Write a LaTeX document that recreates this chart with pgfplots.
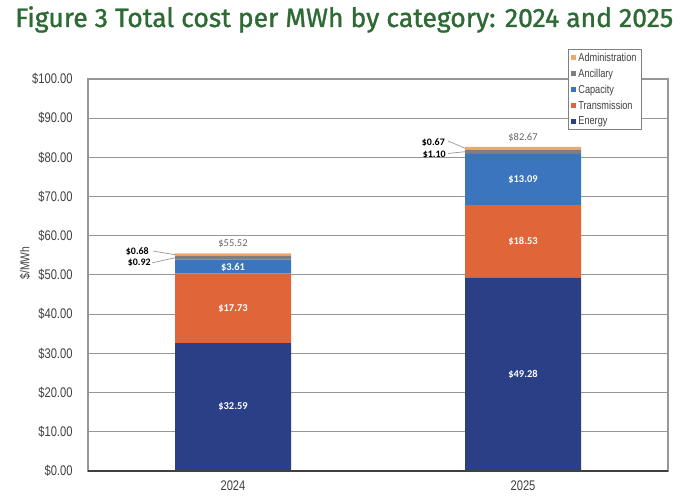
\documentclass[border=0pt]{standalone}
\usepackage{fontspec}
\usepackage{pgfplots}
\pgfplotsset{compat=1.18}
\setmainfont{Liberation Sans}
\newfontfamily\narrowfont[FakeStretch=0.8]{Liberation Sans}
\newfontfamily\calfont{Carlito}
\newfontfamily\titlefont[FakeBold=1.2]{Fira Sans}
\definecolor{titlegreen}{RGB}{46,106,52}
\definecolor{energyc}{RGB}{43,63,135}
\definecolor{transc}{RGB}{224,102,58}
\definecolor{capc}{RGB}{59,117,190}
\definecolor{ancc}{RGB}{127,127,127}
\definecolor{adminc}{RGB}{242,166,104}
\definecolor{tickgray}{RGB}{64,64,64}
\definecolor{gridgray}{RGB}{150,150,150}
\definecolor{totgray}{RGB}{100,100,100}
\tikzset{inl/.style={text=white, font=\calfont\bfseries\fontsize{10.5}{10.5}\selectfont},
  tot/.style={text=totgray, font=\calfont\fontsize{10.5}{10.5}\selectfont},
  sml/.style={text=black, anchor=east, inner sep=0pt, font=\calfont\bfseries\fontsize{10}{10}\selectfont}}
\begin{document}
\begin{tikzpicture}
\useasboundingbox (0bp,0bp) rectangle (680bp,501bp);
\node[anchor=base west, inner sep=0pt, text=titlegreen] at (15bp,474bp)
  {\resizebox{658bp}{!}{\titlefont Figure 3 Total cost per MWh by category: 2024 and 2025}};
\node[rotate=90, text=tickgray, font=\narrowfont\fontsize{13}{13}\selectfont] at (25bp,238bp) {\$/MWh};
\begin{axis}[
  at={(88bp,30bp)}, anchor=south west,
  scale only axis, width=580bp, height=392bp,
  ybar stacked, bar width=0.4,
  xmin=-0.5, xmax=1.5, ymin=0, ymax=100,
  xtick={0,1}, xticklabels={2024,2025},
  ytick={0,10,...,100},
  /pgf/number format/assume math mode=true,
  yticklabel={\$\pgfmathprintnumber[fixed,fixed zerofill,precision=2]{\tick}},
  tick style={draw=none},
  ticklabel style={text=tickgray, font=\narrowfont\fontsize{14}{14}\selectfont},
  yticklabel style={xshift=-12bp},
  xticklabel style={yshift=-6bp},
  ymajorgrids, major grid style={draw=gridgray, line width=1bp},
  axis line style={draw=gridgray, line width=1.2bp},
  clip=false,
  reverse legend,
  legend style={at={(rel axis cs:0.8276,1.0765)}, anchor=north west, fill=white,
    draw=gray, line width=0.8bp, font=\narrowfont\fontsize{11.5}{11.5}\selectfont,
    text=tickgray, inner xsep=3bp, inner ysep=1.5bp, row sep=2.2bp, cells={anchor=west},
    /tikz/every even column/.append style={column sep=1bp}},
  legend image code/.code={\fill[#1] (0bp,-2.5bp) rectangle (5bp,2.5bp);},
]
\addplot[fill=energyc, draw=none] coordinates {(0,32.59) (1,49.28)};
\addplot[fill=transc, draw=none] coordinates {(0,17.73) (1,18.53)};
\addplot[fill=capc, draw=none] coordinates {(0,3.61) (1,13.09)};
\addplot[fill=ancc, draw=none] coordinates {(0,0.92) (1,1.10)};
\addplot[fill=adminc, draw=none] coordinates {(0,0.68) (1,0.67)};
\legend{Energy,Transmission,Capacity,Ancillary,Administration}
\coordinate (bl) at (rel axis cs:0,0);
\coordinate (br) at (rel axis cs:1,0);
\coordinate (i1) at (axis cs:0,16.3);
\coordinate (i2) at (axis cs:0,41.46);
\coordinate (i3) at (axis cs:0,52.0);
\coordinate (i4) at (axis cs:1,24.64);
\coordinate (i5) at (axis cs:1,58.55);
\coordinate (i6) at (axis cs:1,74.35);
\coordinate (t1) at (axis cs:0,57.9);
\coordinate (t2) at (axis cs:1,85.2);
\coordinate (s1) at (axis cs:-0.2897,55.87);
\coordinate (s2) at (axis cs:-0.283,53.06);
\coordinate (s3) at (axis cs:0.731,83.67);
\coordinate (s4) at (axis cs:0.734,80.6);
\coordinate (a1) at (axis cs:-0.276,56.1);
\coordinate (b1) at (axis cs:-0.2,55.19);
\coordinate (a2) at (axis cs:-0.279,53.1);
\coordinate (b2) at (axis cs:-0.2,54.39);
\coordinate (a3) at (axis cs:0.741,84.2);
\coordinate (b3) at (axis cs:0.8,82.33);
\coordinate (a4) at (axis cs:0.741,81.0);
\coordinate (b4) at (axis cs:0.8,81.45);
\end{axis}
\draw[tickgray, line width=1.2bp] (bl) -- (br);
\node[inl] at (i1) {\$32.59};
\node[inl] at (i2) {\$17.73};
\node[inl] at (i3) {\$3.61};
\node[inl] at (i4) {\$49.28};
\node[inl] at (i5) {\$18.53};
\node[inl] at (i6) {\$13.09};
\node[tot] at (t1) {\$55.52};
\node[tot] at (t2) {\$82.67};
\node[sml] at (s1) {\$0.68};
\node[sml] at (s2) {\$0.92};
\node[sml] at (s3) {\$0.67};
\node[sml] at (s4) {\$1.10};
\draw[gridgray, line width=0.7bp] (a1) -- (b1);
\draw[gridgray, line width=0.7bp] (a2) -- (b2);
\draw[gridgray, line width=0.7bp] (a3) -- (b3);
\draw[gridgray, line width=0.7bp] (a4) -- (b4);
\end{tikzpicture}
\end{document}
